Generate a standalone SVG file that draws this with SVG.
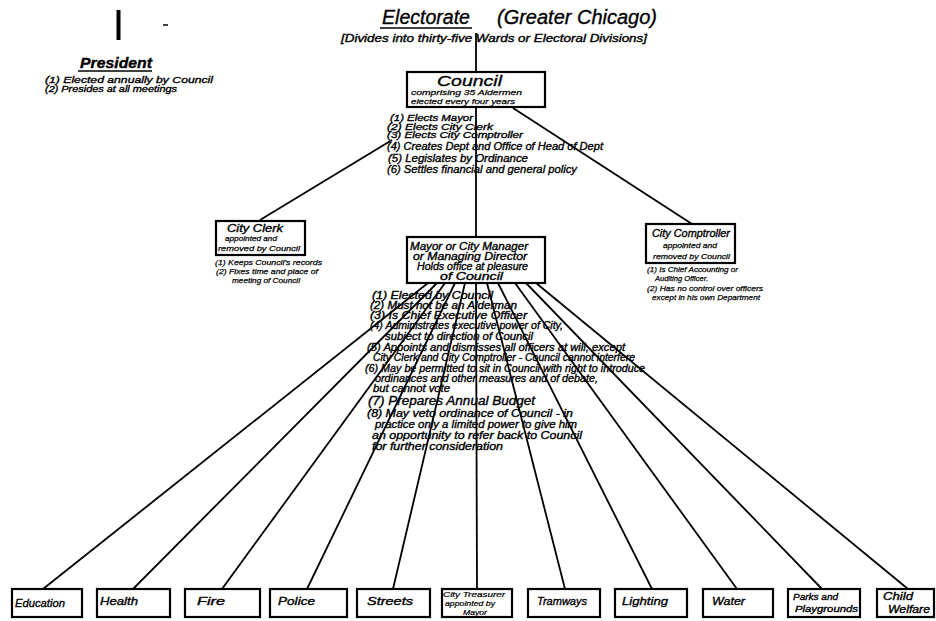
<svg xmlns="http://www.w3.org/2000/svg" width="936" height="621" viewBox="0 0 936 621">
<style>
text{font-family:"Liberation Sans",Arial,sans-serif;font-style:italic;fill:#000;stroke:#000;stroke-width:0.35}
.box{fill:#fff;stroke:#000;stroke-width:2.2}
.conn{stroke:#000;stroke-width:1.8;fill:none}
.ul{stroke:#000;stroke-width:1.5}
.t20{font-size:20px}
.t15{font-size:15px}
.t14{font-size:14px;font-weight:bold}
.t12{font-size:12px}
.t11{font-size:11px}
.t10{font-size:10px}
.t9{font-size:9px}
.t8{font-size:8px;stroke-width:0.25}
.t7{font-size:7px;stroke-width:0.2}
</style>
<rect x="0" y="0" width="936" height="621" fill="#fff"/>

<g id="electorate">
<text class="t20" x="382" y="24" textLength="88" lengthAdjust="spacingAndGlyphs">Electorate</text>
<line class="ul" x1="380" y1="28" x2="472" y2="28"/>
<text class="t20" x="497" y="24" textLength="160" lengthAdjust="spacingAndGlyphs">(Greater Chicago)</text>
<text class="t10" x="341" y="42" textLength="306" lengthAdjust="spacingAndGlyphs">[Divides into thirty-five Wards or Electoral Divisions]</text>
</g>

<g id="president">
<line x1="118.5" y1="10" x2="118.5" y2="40" stroke="#000" stroke-width="4"/>
<line x1="163" y1="25" x2="168" y2="25" stroke="#000" stroke-width="1.5"/>
<text class="t14" x="80" y="68" textLength="72" lengthAdjust="spacingAndGlyphs">President</text>
<line class="ul" x1="78" y1="71" x2="152" y2="71"/>
<text class="t9" x="45" y="83" textLength="168" lengthAdjust="spacingAndGlyphs">(1) Elected annually by Council</text>
<text class="t9" x="45" y="92" textLength="132" lengthAdjust="spacingAndGlyphs">(2) Presides at all meetings</text>
</g>

<g id="connectors">
<line class="conn" x1="476" y1="33" x2="476" y2="72"/>
<line class="conn" x1="476" y1="107" x2="476" y2="237"/>
<line class="conn" x1="392" y1="140" x2="260" y2="220"/>
<line class="conn" x1="513" y1="108" x2="692" y2="224"/>
<line class="conn" x1="428" y1="283" x2="43" y2="589"/>
<line class="conn" x1="437" y1="283" x2="133" y2="589"/>
<line class="conn" x1="445" y1="283" x2="222" y2="589"/>
<line class="conn" x1="455" y1="283" x2="307" y2="589"/>
<line class="conn" x1="465" y1="283" x2="393" y2="589"/>
<line class="conn" x1="476" y1="283" x2="477" y2="589"/>
<line class="conn" x1="487" y1="283" x2="565" y2="589"/>
<line class="conn" x1="498" y1="283" x2="652" y2="589"/>
<line class="conn" x1="515" y1="283" x2="737" y2="589"/>
<line class="conn" x1="526" y1="283" x2="822" y2="589"/>
<line class="conn" x1="536" y1="283" x2="908" y2="589"/>
</g>

<g id="council">
<rect class="box" x="407" y="72" width="138" height="35"/>
<text class="t15" x="437" y="86" textLength="65" lengthAdjust="spacingAndGlyphs">Council</text>
<text class="t8" x="411" y="95" textLength="111" lengthAdjust="spacingAndGlyphs">comprising 35 Aldermen</text>
<text class="t8" x="411" y="104" textLength="104" lengthAdjust="spacingAndGlyphs">elected every four years</text>
<text class="t9" x="390" y="121" textLength="83" lengthAdjust="spacingAndGlyphs" font-size="8.5">(1) Elects Mayor</text>
<text class="t9" x="387" y="129.5" textLength="106" lengthAdjust="spacingAndGlyphs" font-size="8.5">(2) Elects City Clerk</text>
<text class="t9" x="387" y="138" textLength="136" lengthAdjust="spacingAndGlyphs" font-size="8.5">(3) Elects City Comptroller</text>
<text class="t10" x="387" y="149.5" textLength="216" lengthAdjust="spacingAndGlyphs">(4) Creates Dept and Office of Head of Dept</text>
<text class="t10" x="388" y="161.5" textLength="140" lengthAdjust="spacingAndGlyphs">(5) Legislates by Ordinance</text>
<text class="t11" x="387" y="173" textLength="190" lengthAdjust="spacingAndGlyphs">(6) Settles financial and general policy</text>
</g>

<g id="city-clerk">
<rect class="box" x="216" y="221" width="89" height="34"/>
<text class="t10" x="227" y="232" textLength="56" lengthAdjust="spacingAndGlyphs">City Clerk</text>
<text class="t8" x="225" y="241" textLength="52" lengthAdjust="spacingAndGlyphs">appointed and</text>
<text class="t8" x="218" y="251" textLength="82" lengthAdjust="spacingAndGlyphs">removed by Council</text>
<text class="t8" x="215" y="265" textLength="107" lengthAdjust="spacingAndGlyphs">(1) Keeps Council's records</text>
<text class="t8" x="216" y="274" textLength="102" lengthAdjust="spacingAndGlyphs">(2) Fixes time and place of</text>
<text class="t8" x="232" y="283" textLength="68" lengthAdjust="spacingAndGlyphs">meeting of Council</text>
</g>

<g id="city-comptroller">
<rect class="box" x="646" y="224" width="89" height="39"/>
<text class="t10" x="652" y="237" textLength="78" lengthAdjust="spacingAndGlyphs">City Comptroller</text>
<text class="t8" x="663" y="248" textLength="54" lengthAdjust="spacingAndGlyphs">appointed and</text>
<text class="t8" x="653" y="259" textLength="77" lengthAdjust="spacingAndGlyphs">removed by Council</text>
<text class="t8" x="647" y="272" textLength="91" lengthAdjust="spacingAndGlyphs">(1) Is Chief Accounting or</text>
<text class="t8" x="655" y="281" textLength="53" lengthAdjust="spacingAndGlyphs">Auditing Officer.</text>
<text class="t8" x="647" y="291" textLength="116" lengthAdjust="spacingAndGlyphs">(2) Has no control over officers</text>
<text class="t8" x="652" y="300" textLength="108" lengthAdjust="spacingAndGlyphs">except in his own Department</text>
</g>

<g id="mayor">
<rect class="box" x="407" y="237" width="138" height="46"/>
<text class="t10" x="410" y="250" textLength="118" lengthAdjust="spacingAndGlyphs">Mayor or City Manager</text>
<text class="t10" x="413" y="260" textLength="114" lengthAdjust="spacingAndGlyphs">or Managing Director</text>
<text class="t10" x="417" y="270" textLength="111" lengthAdjust="spacingAndGlyphs">Holds office at pleasure</text>
<text class="t10" x="440" y="280" textLength="63" lengthAdjust="spacingAndGlyphs">of Council</text>
<text class="t10" x="372" y="299" textLength="121" lengthAdjust="spacingAndGlyphs">(1) Elected by Council</text>
<text class="t10" x="370" y="309" textLength="147" lengthAdjust="spacingAndGlyphs">(2) Must not be an Alderman</text>
<text class="t10" x="370" y="319" textLength="157" lengthAdjust="spacingAndGlyphs">(3) Is Chief Executive Officer</text>
<text class="t10" x="370" y="329" textLength="193" lengthAdjust="spacingAndGlyphs">(4) Administrates executive power of City,</text>
<text class="t10" x="385" y="340" textLength="148" lengthAdjust="spacingAndGlyphs">subject to direction of Council</text>
<text class="t10" x="367" y="351" textLength="258" lengthAdjust="spacingAndGlyphs">(5) Appoints and dismisses all officers at will, except</text>
<text class="t10" x="373" y="361" textLength="262" lengthAdjust="spacingAndGlyphs">City Clerk and City Comptroller - Council cannot interfere</text>
<text class="t10" x="365" y="372" textLength="280" lengthAdjust="spacingAndGlyphs">(6) May be permitted to sit in Council with right to introduce</text>
<text class="t10" x="375" y="382" textLength="223" lengthAdjust="spacingAndGlyphs">ordinances and other measures and of debate,</text>
<text class="t10" x="373" y="392" textLength="77" lengthAdjust="spacingAndGlyphs">but cannot vote</text>
<text class="t12" x="368" y="405" textLength="167" lengthAdjust="spacingAndGlyphs">(7) Prepares Annual Budget</text>
<text class="t10" x="367" y="417" textLength="206" lengthAdjust="spacingAndGlyphs">(8) May veto ordinance of Council - in</text>
<text class="t10" x="375" y="428" textLength="202" lengthAdjust="spacingAndGlyphs">practice only a limited power to give him</text>
<text class="t10" x="372" y="439" textLength="210" lengthAdjust="spacingAndGlyphs">an opportunity to refer back to Council</text>
<text class="t10" x="372" y="450" textLength="131" lengthAdjust="spacingAndGlyphs">for further consideration</text>
</g>

<g id="education"><rect class="box" x="12" y="589" width="70" height="28"/><text class="t11" x="15" y="607" textLength="50" lengthAdjust="spacingAndGlyphs">Education</text></g>
<g id="health"><rect class="box" x="97" y="589" width="73" height="28"/><text class="t11" x="100" y="605" textLength="38" lengthAdjust="spacingAndGlyphs">Health</text></g>
<g id="fire"><rect class="box" x="185" y="589" width="75" height="28"/><text class="t11" x="197" y="605" textLength="28" lengthAdjust="spacingAndGlyphs">Fire</text></g>
<g id="police"><rect class="box" x="270" y="589" width="77" height="28"/><text class="t11" x="278" y="605" textLength="37" lengthAdjust="spacingAndGlyphs">Police</text></g>
<g id="streets"><rect class="box" x="357" y="589" width="73" height="28"/><text class="t11" x="367" y="605" textLength="46" lengthAdjust="spacingAndGlyphs">Streets</text></g>
<g id="city-treasurer"><rect class="box" x="442" y="589" width="70" height="28"/>
<text class="t7" x="443" y="597" textLength="62" lengthAdjust="spacingAndGlyphs">City Treasurer</text>
<text class="t7" x="445" y="606" textLength="50" lengthAdjust="spacingAndGlyphs">appointed by</text>
<text class="t7" x="463" y="615" textLength="24" lengthAdjust="spacingAndGlyphs">Mayor</text></g>
<g id="tramways"><rect class="box" x="528" y="589" width="72" height="28"/><text class="t11" x="537" y="605" textLength="50" lengthAdjust="spacingAndGlyphs">Tramways</text></g>
<g id="lighting"><rect class="box" x="615" y="589" width="72" height="28"/><text class="t11" x="622" y="605" textLength="46" lengthAdjust="spacingAndGlyphs">Lighting</text></g>
<g id="water"><rect class="box" x="703" y="589" width="70" height="28"/><text class="t11" x="712" y="605" textLength="33" lengthAdjust="spacingAndGlyphs">Water</text></g>
<g id="parks"><rect class="box" x="788" y="589" width="72" height="28"/>
<text class="t9" x="793" y="600" textLength="45" lengthAdjust="spacingAndGlyphs">Parks and</text>
<text class="t9" x="795" y="612" textLength="63" lengthAdjust="spacingAndGlyphs">Playgrounds</text></g>
<g id="child-welfare"><rect class="box" x="877" y="589" width="57" height="28"/>
<text class="t10" x="883" y="600" textLength="30" lengthAdjust="spacingAndGlyphs">Child</text>
<text class="t10" x="888" y="613" textLength="42" lengthAdjust="spacingAndGlyphs">Welfare</text></g>
</svg>
